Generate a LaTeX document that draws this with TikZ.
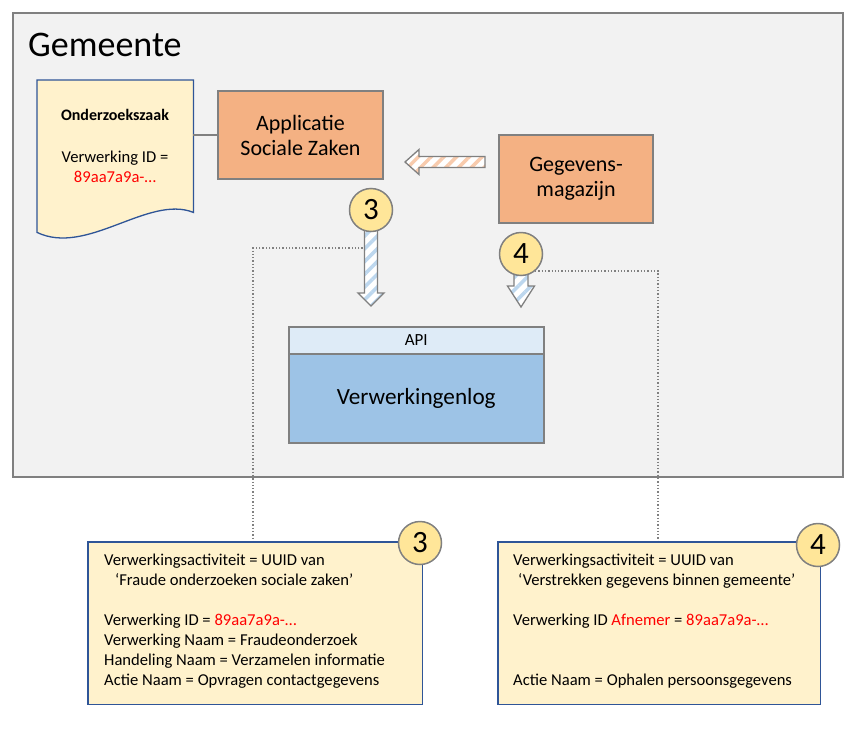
\documentclass[tikz,border=0pt]{standalone}
\usepackage{fontspec}
\setmainfont{Carlito}
\usetikzlibrary{patterns.meta}
\definecolor{bggray}{HTML}{F2F2F2}
\definecolor{bordergray}{HTML}{808080}
\definecolor{noteyellow}{HTML}{FFF2CC}
\definecolor{noteblue}{HTML}{2F5597}
\definecolor{apporange}{HTML}{F4B183}
\definecolor{circleyellow}{HTML}{FFE699}
\definecolor{logblue}{HTML}{9DC3E6}
\definecolor{apiblue}{HTML}{DEEBF7}
\definecolor{hatchorange}{HTML}{F8CBAD}
\definecolor{hatchblue}{HTML}{BDD7EE}
\definecolor{idred}{HTML}{FF0000}
\begin{document}
\begin{tikzpicture}[x=1pt,y=-1pt,
  sysbox/.style={draw=bordergray, line width=1.5pt, fill=apporange, align=center, inner sep=0pt, font=\fontsize{22}{25}\selectfont},
  badge/.style={circle, draw=bordergray, line width=1.5pt, fill=circleyellow, minimum size=43pt, inner sep=0pt, font=\fontsize{31}{31}\selectfont},
  notebox/.style={draw=noteblue, line width=1.3pt, fill=noteyellow},
  notetext/.style={anchor=north west, align=left, inner sep=0pt, font=\fontsize{16.6}{20}\selectfont},
  hatcharrow/.style={draw=bordergray, line width=1.3pt, line join=miter, preaction={fill=white}, pattern={Lines[angle=45,distance=9pt,line width=3.5pt]}, pattern color=#1},
  dotlink/.style={draw=bordergray, dotted, line width=1.3pt}
]
\useasboundingbox (0,0) rectangle (853,728);

% Gemeente background
\node[draw=bordergray, fill=bggray, line width=1.5pt, anchor=north west, minimum width=830pt, minimum height=464pt, inner sep=0pt] (gem) at (12,12) {};
\node[anchor=west, inner sep=0pt, font=\fontsize{36}{36}\selectfont] (title) at (28,45) {Gemeente};

% notes (positions for dotted links)
\node[anchor=north west, minimum width=334pt, minimum height=162pt, inner sep=0pt] (note3) at (88,542) {};
\node[anchor=north west, minimum width=322pt, minimum height=162pt, inner sep=0pt] (note4) at (498,542) {};

% dotted links
\coordinate (s3) at (366,248);
\coordinate (k3) at (253,248);
\draw[dotlink] (s3) -- (k3) -- (k3 |- note3.north);
\coordinate (s4) at (535,271);
\coordinate (k4) at (658,271);
\draw[dotlink] (s4) -- (k4) -- (k4 |- note4.north);

% document
\node[minimum width=156pt, minimum height=132pt, anchor=north west, inner sep=0pt] (doc) at (37,80) {};
\draw[notebox] (doc.north west) -- (doc.north east) -- (doc.south east)
  .. controls +(-45,-18) and +(50,24) .. ([yshift=-20pt]doc.south west) -- cycle;
\node[font=\bfseries\fontsize{16}{18}\selectfont, inner sep=0pt] (dtitle) at (115,115) {Onderzoekszaak};
\node[font=\fontsize{16.6}{20}\selectfont, align=center, inner sep=0pt] (did) at (115,167) {Verwerking ID =\\\textcolor{idred}{89aa7a9a-…}};

% systems
\node[sysbox, minimum width=165pt, minimum height=88pt] (app) at (300.5,135) {Applicatie\\Sociale Zaken};
\node[sysbox, minimum width=154pt, minimum height=88pt] (mag) at (576,179) {Gegevens-\\magazijn};
\draw[bordergray, line width=1.5pt] (doc.east |- app.west) -- (app.west);

% hatched arrows
\path[hatcharrow=hatchorange] (485,156.5) -- (419,156.5) -- (419,149.5) -- (405,162) -- (419,174.5) -- (419,167.5) -- (485,167.5) -- cycle;
\path[hatcharrow=hatchblue] (364.5,228) -- (364.5,293) -- (358,293) -- (371,306) -- (384,293) -- (377.5,293) -- (377.5,228) -- cycle;
\path[hatcharrow=hatchblue] (514,272) -- (514,286) -- (507.5,286) -- (521,307) -- (534.5,286) -- (528,286) -- (528,272) -- cycle;

% badges
\node[badge] (b3) at (371,210) {3};
\node[badge] (b4) at (521,254) {4};

% Verwerkingenlog
\node[draw=bordergray, line width=1.5pt, fill=apiblue, minimum width=255pt, minimum height=27pt, anchor=north west, inner sep=0pt, font=\fontsize{17}{17}\selectfont] (api) at (288,326) {API};
\node[draw=bordergray, line width=1.5pt, fill=logblue, minimum width=255pt, minimum height=89pt, anchor=north west, inner sep=0pt, font=\fontsize{23.2}{25}\selectfont] (log) at (288,353) {Verwerkingenlog};

% notes
\draw[notebox] (note3.north west) rectangle (note3.south east);
\draw[notebox] (note4.north west) rectangle (note4.south east);
\node[notetext] (t3) at (104,554) {Verwerkingsactiviteit = UUID van\\
\hspace*{11pt}‘Fraude onderzoeken sociale zaken’\\[20pt]
Verwerking ID = \textcolor{idred}{89aa7a9a-…}\\
Verwerking Naam = Fraudeonderzoek\\
Handeling Naam = Verzamelen informatie\\
Actie Naam = Opvragen contactgegevens};
\node[notetext] (t4) at (513,554) {Verwerkingsactiviteit = UUID van\\
\hspace*{5pt}‘Verstrekken gegevens binnen gemeente’\\[20pt]
Verwerking ID \textcolor{idred}{Afnemer} = \textcolor{idred}{89aa7a9a-…}\\[40pt]
Actie Naam = Ophalen persoonsgegevens};
\node[badge] (n3) at (420,543) {3};
\node[badge] (n4) at (818,545) {4};
\end{tikzpicture}
\end{document}
